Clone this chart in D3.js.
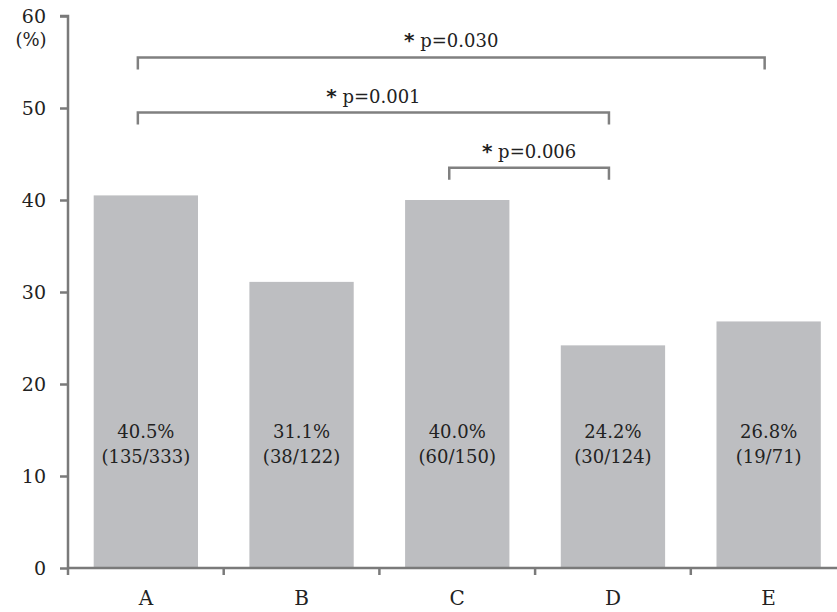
<!DOCTYPE html>
<html><head><meta charset="utf-8">
<script src="https://cdn.jsdelivr.net/npm/d3@7"></script>
<style>body{margin:0;background:#fff}svg{display:block}text{font-family:"DejaVu Serif",serif;fill:#222}</style>
</head><body>
<svg id="c" width="837" height="612"></svg>
<script>
const categories = ["A","B","C","D","E"];
const values = [40.5, 31.1, 40.0, 24.2, 26.8];
const counts = ["(135/333)","(38/122)","(60/150)","(30/124)","(19/71)"];
const yTicks = [0,10,20,30,40,50,60];
const comparisons = [
  {from:"A", to:"E", level:55.5, label:"p=0.030"},
  {from:"A", to:"D", level:49.5, label:"p=0.001"},
  {from:"C", to:"D", level:43.5, label:"p=0.006"}
];

const FONT = "DejaVu Serif, serif";
const svg = d3.select("#c");
const x = d3.scaleBand().domain(categories).range([68, 846.5]).paddingInner(0.33).paddingOuter(0.165);
const y = d3.scaleLinear().domain([0,60]).range([568, 16]);
const axisColor = "#7a7a7a";

// bars
svg.selectAll("rect.bar").data(values).enter().append("rect")
  .attr("x",(d,i)=>x(categories[i])).attr("width",x.bandwidth())
  .attr("y",d=>y(d)).attr("height",d=>y(0)-y(d)).attr("fill","#bdbec1");

// bar labels
values.forEach((v,i)=>{
  const cx = x(categories[i]) + x.bandwidth()/2;
  svg.append("text").attr("x",cx).attr("y",y(14.1)).attr("text-anchor","middle").attr("font-size",18).text(v.toFixed(1)+"%");
  svg.append("text").attr("x",cx).attr("y",y(11.4)).attr("text-anchor","middle").attr("font-size",18).text(counts[i]);
});

// y axis
const ya = svg.append("g").attr("transform","translate(68,0)").call(d3.axisLeft(y).tickValues(yTicks).tickSize(8).tickPadding(14));
ya.select(".domain").attr("stroke",axisColor).attr("stroke-width",2.5).attr("d","M-8,"+y(60)+"H0V"+y(0));
ya.selectAll(".tick line").attr("stroke",axisColor).attr("stroke-width",2.5);
ya.selectAll(".tick text").attr("font-size",19).attr("font-family",FONT).attr("fill","#222").attr("dy","0.35em");
svg.append("text").attr("x",31).attr("y",46).attr("text-anchor","middle").attr("font-size",18).text("(%)");

// x axis
const xa = svg.append("g").attr("transform","translate(0,"+y(0)+")").call(d3.axisBottom(x).tickSize(0).tickPadding(23));
xa.select(".domain").attr("stroke",axisColor).attr("stroke-width",2.5).attr("d","M68,0H837");
xa.selectAll(".tick text").attr("font-size",20).attr("font-family",FONT).attr("fill","#222");
// x tick marks between categories
const step = x.step();
categories.slice(0,-1).forEach((c,i)=>{
  const tx = x(c) + x.bandwidth()/2 + step/2;
  svg.append("line").attr("x1",tx).attr("x2",tx).attr("y1",y(0)).attr("y2",y(0)+7).attr("stroke",axisColor).attr("stroke-width",2.5);
});
svg.append("line").attr("x1",68).attr("x2",68).attr("y1",y(0)).attr("y2",y(0)+7).attr("stroke",axisColor).attr("stroke-width",2.5);

// comparison brackets
comparisons.forEach(cmp=>{
  const x1 = x(cmp.from) + x.bandwidth()/2 - 8;
  const x2 = x(cmp.to) + x.bandwidth()/2 - 4;
  const yy = y(cmp.level);
  svg.append("path").attr("d",`M${x1},${yy+12}V${yy}H${x2}V${yy+12}`)
    .attr("fill","none").attr("stroke","#808080").attr("stroke-width",2.5);
  const t = svg.append("text").attr("x",(x1+x2)/2).attr("y",yy-10).attr("text-anchor","middle").attr("font-size",18);
  t.append("tspan").attr("font-weight","bold").attr("font-family","DejaVu Sans, sans-serif").attr("font-size",20).text("*");
  t.append("tspan").text(" "+cmp.label);
});
</script>
</body></html>
